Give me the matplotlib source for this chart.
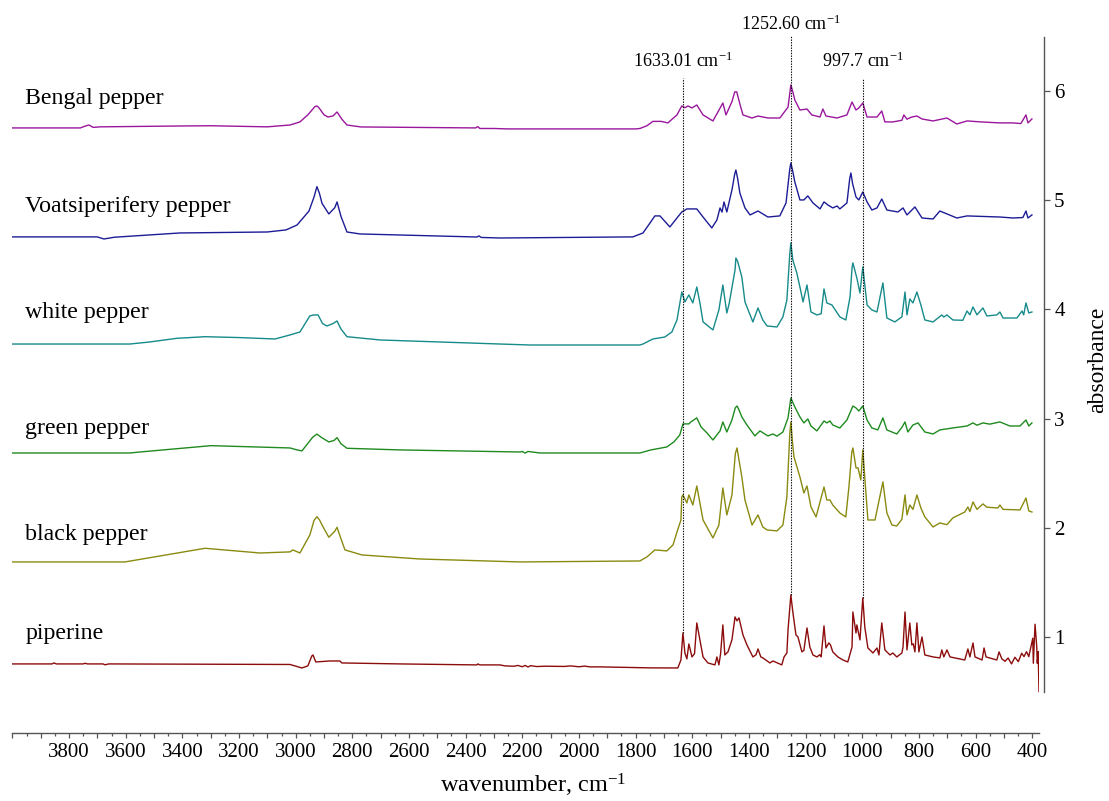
import matplotlib
matplotlib.use('Agg')
import matplotlib.pyplot as plt
from matplotlib.ticker import MultipleLocator, FuncFormatter, NullLocator

plt.rcParams['font.family'] = ['Liberation Serif', 'DejaVu Serif']
plt.rcParams['mathtext.fontset'] = 'custom'
plt.rcParams['mathtext.rm'] = 'Liberation Serif'
plt.rcParams['mathtext.it'] = 'Liberation Serif:italic'
plt.rcParams['mathtext.bf'] = 'Liberation Serif:bold'

# ---------------- data: (wavenumber cm-1, absorbance) ----------------
bengal = [(4000, 5.66), (3760, 5.66), (3745, 5.675), (3730, 5.687), (3715, 5.665), (3690, 5.67),
          (3400, 5.678), (3300, 5.68), (3100, 5.67), (3020, 5.687), (2985, 5.715), (2957, 5.78),
          (2932, 5.855), (2925, 5.861), (2918, 5.845), (2900, 5.78), (2886, 5.76), (2868, 5.77),
          (2854, 5.806), (2837, 5.74), (2819, 5.687),
          (2770, 5.669), (2365, 5.66), (2357, 5.672), (2350, 5.655), (2300, 5.655), (2250, 5.651),
          (1800, 5.651), (1785, 5.655), (1760, 5.68), (1739, 5.72), (1710, 5.72), (1686, 5.706),
          (1654, 5.779), (1637, 5.861), (1626, 5.845), (1615, 5.861), (1601, 5.843), (1584, 5.870),
          (1562, 5.779), (1527, 5.724), (1492, 5.888), (1481, 5.779), (1460, 5.90), (1450, 5.99),
          (1443, 5.99), (1432, 5.88), (1421, 5.779),
          (1389, 5.751), (1368, 5.769), (1333, 5.751), (1291, 5.751), (1262, 5.85), (1252, 6.053),
          (1245, 5.99), (1238, 5.916),
          (1220, 5.824), (1195, 5.833), (1178, 5.779), (1149, 5.760), (1139, 5.833), (1128, 5.769),
          (1089, 5.751), (1054, 5.779), (1036, 5.897), (1022, 5.824), (1012, 5.843), (998, 5.888),
          (983, 5.760), (948, 5.760), (931, 5.815), (920, 5.715), (892, 5.715), (860, 5.73),
          (853, 5.779), (842, 5.74), (825, 5.760), (807, 5.769), (789, 5.742), (750, 5.724),
          (701, 5.751), (666, 5.696), (630, 5.724), (580, 5.715), (514, 5.706), (468, 5.706),
          (440, 5.70), (422, 5.779), (415, 5.706), (401, 5.742)]

voatsiperifery = [(4000, 4.663), (3700, 4.663), (3677, 4.644), (3640, 4.66), (3409, 4.699), (3100, 4.708),
                  (3034, 4.727), (2995, 4.772), (2953, 4.900), (2935, 5.03), (2925, 5.123), (2916, 5.06),
                  (2907, 4.97), (2883, 4.873), (2862, 4.93),
                  (2854, 4.983), (2840, 4.85), (2819, 4.708), (2773, 4.690), (2360, 4.662), (2353, 4.672),
                  (2345, 4.658), (2279, 4.653), (1810, 4.663), (1774, 4.699), (1749, 4.791), (1732, 4.855),
                  (1714, 4.855), (1679, 4.754), (1654, 4.836), (1637, 4.891), (1619, 4.919), (1584, 4.919),
                  (1562, 4.845), (1531, 4.745), (1513, 4.818), (1502, 4.928), (1495, 4.89), (1488, 4.983),
                  (1478, 4.891), (1460, 5.092), (1450, 5.24), (1446, 5.275), (1440, 5.20), (1432, 5.065),
                  (1414, 4.928), (1396, 4.864),
                  (1368, 4.900), (1333, 4.845), (1291, 4.855), (1269, 4.974), (1256, 5.28), (1252, 5.339),
                  (1245, 5.26), (1238, 5.166),
                  (1220, 5.001), (1206, 5.001), (1192, 5.038), (1174, 4.974), (1149, 4.919), (1135, 4.983),
                  (1121, 4.955), (1104, 4.928), (1089, 4.946), (1079, 4.919), (1054, 4.974), (1044, 5.20),
                  (1040, 5.248), (1034, 5.15),
                  (1022, 5.028), (1012, 5.001), (998, 5.074), (983, 4.983), (966, 4.909), (948, 4.928),
                  (931, 5.010), (913, 4.909), (874, 4.891), (856, 4.928), (842, 4.864), (814, 4.937),
                  (789, 4.836), (750, 4.827), (726, 4.900), (666, 4.836), (630, 4.855), (514, 4.845),
                  (468, 4.836), (433, 4.84), (422, 4.900), (415, 4.836), (401, 4.864)]

white = [(4000, 3.683), (3585, 3.683), (3514, 3.702), (3420, 3.735), (3320, 3.750), (3200, 3.742),
         (3073, 3.729), (3020, 3.766),
         (2985, 3.793), (2950, 3.94), (2936, 3.949), (2921, 3.949), (2905, 3.87), (2890, 3.848),
         (2868, 3.87), (2854, 3.894), (2840, 3.82),
         (2819, 3.750), (2702, 3.720), (2279, 3.683), (2173, 3.674), (1785, 3.674), (1774, 3.683),
         (1739, 3.729), (1697, 3.747), (1672, 3.793), (1654, 3.903), (1637, 4.159), (1626, 4.068),
         (1612, 4.132), (1598, 4.059), (1584, 4.205), (1573, 4.059), (1562, 3.885), (1527, 3.812),
         (1506, 3.995), (1492, 4.223), (1478, 3.967), (1470, 4.05), (1449, 4.361), (1446, 4.470),
         (1440, 4.44), (1425, 4.296), (1414, 4.068), (1386, 3.885), (1368, 4.013), (1351, 3.903),
         (1336, 3.848), (1301, 3.839), (1280, 3.931), (1266, 4.086), (1256, 4.50), (1252, 4.608),
         (1245, 4.45), (1231, 4.333), (1220, 4.205),
         (1209, 4.068), (1195, 4.223), (1181, 3.976), (1160, 3.949), (1145, 3.96), (1135, 4.187),
         (1125, 4.059), (1107, 4.040), (1079, 3.931), (1058, 3.903), (1043, 4.114), (1036, 4.38),
         (1033, 4.425), (1019, 4.287), (1008, 4.150), (998, 4.388), (983, 4.040), (966, 3.995), (948, 3.976),
         (927, 4.242), (913, 3.921), (885, 3.885), (860, 3.931), (849, 4.159), (842, 3.949),
         (832, 4.095), (821, 4.059), (807, 4.159), (793, 4.040), (779, 3.903), (750, 3.885),
         (719, 3.949), (712, 3.93), (701, 3.949), (680, 3.903), (645, 3.90), (630, 3.985),
         (620, 3.95), (609, 4.022), (595, 3.95), (574, 4.013), (560, 3.94), (525, 3.949),
         (514, 3.976), (503, 3.921), (454, 3.921), (436, 3.985), (430, 3.95), (422, 4.059),
         (412, 3.967), (401, 3.976)]

green = [(4000, 2.686), (3585, 2.686), (3550, 2.695), (3299, 2.753), (3020, 2.732), (2995, 2.714),
         (2978, 2.705), (2940, 2.83), (2925, 2.859), (2910, 2.83), (2883, 2.787), (2865, 2.80),
         (2854, 2.826), (2840, 2.77), (2819, 2.729), (2632, 2.714),
         (2208, 2.695), (2200, 2.70), (2190, 2.685), (2180, 2.70), (2138, 2.686), (1785, 2.686),
         (1746, 2.714), (1690, 2.741), (1665, 2.787), (1644, 2.851), (1633, 2.952), (1612, 2.952),
         (1605, 2.97), (1584, 3.007), (1569, 2.924), (1548, 2.869), (1527, 2.805), (1502, 2.888),
         (1492, 2.970), (1478, 2.878), (1460, 2.988), (1448, 3.10), (1442, 3.116), (1435, 3.08),
         (1425, 3.016), (1407, 2.942),
         (1379, 2.842), (1361, 2.888), (1333, 2.842), (1315, 2.860), (1301, 2.84), (1280, 2.878),
         (1262, 3.007), (1252, 3.189), (1238, 3.107), (1220, 3.016), (1206, 2.961), (1192, 2.997),
         (1181, 2.933), (1160, 2.888), (1135, 2.979), (1125, 2.961), (1114, 2.979), (1104, 2.942),
         (1079, 2.915), (1054, 2.988), (1033, 3.116), (1022, 3.098), (1012, 3.07), (998, 3.116),
         (983, 2.988), (966, 2.915), (945, 2.897), (927, 3.007), (913, 2.897), (878, 2.860),
         (860, 2.92), (849, 2.970), (839, 2.878), (821, 2.942), (803, 2.961), (779, 2.878),
         (750, 2.860), (726, 2.897), (680, 2.915), (630, 2.933), (609, 2.961), (595, 2.94),
         (574, 2.961), (550, 2.95), (514, 2.970), (479, 2.933), (443, 2.933), (422, 2.988),
         (412, 2.933), (401, 2.961)]

black = [(4000, 1.689), (3603, 1.689), (3320, 1.814), (3126, 1.771), (3020, 1.781), (3010, 1.799),
         (2985, 1.771), (2950, 1.936), (2935, 2.07), (2925, 2.103), (2915, 2.07), (2907, 2.027),
         (2883, 1.915), (2862, 1.97), (2854, 2.006), (2840, 1.90),
         (2826, 1.799), (2766, 1.753), (2561, 1.716), (2208, 1.689), (1785, 1.698), (1760, 1.735),
         (1732, 1.799), (1690, 1.790), (1668, 1.845), (1654, 1.963), (1640, 2.073), (1637, 2.284),
         (1633, 2.302), (1619, 2.229), (1612, 2.302), (1598, 2.210), (1584, 2.384), (1573, 2.229),
         (1562, 2.073), (1527, 1.909), (1506, 2.027), (1492, 2.366), (1478, 2.119), (1460, 2.30),
         (1448, 2.68), (1442, 2.732), (1435, 2.62), (1425, 2.467), (1414, 2.256), (1389, 2.027),
         (1368, 2.119), (1351, 2.009),
         (1336, 1.982), (1301, 1.973), (1280, 2.027), (1266, 2.284), (1256, 2.85), (1252, 2.970),
         (1246, 2.78), (1241, 2.650),
         (1220, 2.467), (1206, 2.320), (1195, 2.384), (1181, 2.192), (1163, 2.101), (1135, 2.375),
         (1125, 2.256), (1114, 2.256), (1104, 2.210), (1079, 2.137), (1058, 2.101), (1047, 2.375),
         (1037, 2.69), (1033, 2.732), (1022, 2.549), (1015, 2.55), (1005, 2.439), (998, 2.714), (987, 2.320),
         (980, 2.073), (955, 2.073), (927, 2.421), (913, 2.137), (895, 2.027), (878, 2.018),
         (860, 2.08), (849, 2.302), (842, 2.119), (832, 2.210), (821, 2.17), (807, 2.302),
         (793, 2.183), (779, 2.101), (750, 2.009), (726, 2.046), (701, 2.03), (680, 2.092),
         (638, 2.146), (627, 2.192), (620, 2.15), (609, 2.238), (595, 2.17), (574, 2.220),
         (560, 2.19), (521, 2.183), (514, 2.210), (503, 2.17), (443, 2.165), (422, 2.274),
         (412, 2.156), (401, 2.146)]

piperine = [(4000, 0.756), (3860, 0.756), (3853, 0.765), (3845, 0.756), (3750, 0.756), (3744, 0.762),
            (3735, 0.756), (3680, 0.756), (3673, 0.748), (3660, 0.756), (3020, 0.751), (2992, 0.729),
            (2978, 0.719), (2957, 0.738), (2943, 0.829), (2939, 0.838), (2929, 0.774), (2880, 0.783),
            (2844, 0.783), (2837, 0.765), (2632, 0.756), (2360, 0.747), (2357, 0.756), (2350, 0.747),
            (2279, 0.747), (2261, 0.738), (2230, 0.735), (2215, 0.742), (2200, 0.73), (2190, 0.742),
            (2180, 0.728), (2170, 0.74), (2150, 0.732), (2120, 0.735), (2050, 0.733), (2030, 0.738),
            (2000, 0.73), (1980, 0.736), (1961, 0.729), (1926, 0.729), (1750, 0.72), (1651, 0.719),
            (1640, 0.792), (1633, 1.039), (1626, 0.856), (1619, 0.802), (1612, 0.939), (1601, 0.820),
            (1592, 0.85), (1584, 1.131), (1573, 0.976), (1562, 0.820), (1545, 0.765), (1520, 0.747),
            (1513, 0.820), (1506, 0.747), (1500, 0.85), (1492, 1.113), (1485, 0.838), (1474, 0.866),
            (1460, 0.976), (1449, 1.186), (1442, 1.15), (1435, 1.177), (1421, 1.021), (1407, 0.930),
            (1386, 0.820), (1375, 0.84), (1368, 0.893), (1358, 0.820), (1350, 0.81), (1326, 0.765),
            (1315, 0.783), (1284, 0.747), (1276, 0.820), (1266, 0.856), (1262, 1.067), (1252, 1.387),
            (1245, 1.231), (1234, 1.021), (1227, 1.003), (1213, 0.866), (1206, 0.88), (1195, 1.085),
            (1185, 0.911), (1174, 0.838), (1160, 0.820), (1150, 0.84), (1145, 0.82), (1135, 1.104),
            (1128, 0.902), (1118, 0.948), (1112, 0.93), (1104, 0.866), (1086, 0.820), (1068, 0.792),
            (1051, 0.774), (1036, 0.911), (1033, 1.231), (1022, 1.039), (1019, 1.113), (1008, 0.976),
            (998, 1.360), (991, 1.095), (980, 0.902), (962, 0.856), (948, 0.902), (941, 0.838),
            (931, 1.131), (920, 0.884), (902, 0.838), (892, 0.856), (878, 0.820), (860, 0.856),
            (856, 0.911), (849, 1.231), (842, 0.884), (832, 1.131), (825, 0.930), (820, 0.94),
            (814, 0.866), (807, 1.131), (800, 0.866), (789, 1.003), (779, 0.838), (750, 0.820),
            (726, 0.811), (719, 0.884), (712, 0.82), (701, 0.884), (690, 0.820), (638, 0.792),
            (627, 0.893), (620, 0.820), (609, 0.948), (602, 0.820), (577, 0.792), (570, 0.902),
            (563, 0.82), (525, 0.792), (517, 0.866), (507, 0.802), (496, 0.78), (485, 0.81),
            (473, 0.756), (461, 0.817), (449, 0.777), (437, 0.854), (429, 0.823), (420, 0.868),
            (412, 0.823), (398, 0.991), (396, 0.762), (390, 1.119), (384, 0.914), (382, 0.762),
            (379, 0.868), (376, 0.502)]

series_names = ['Bengal pepper', 'Voatsiperifery pepper', 'white pepper',
                'green pepper', 'black pepper', 'piperine']
series_data = [bengal, voatsiperifery, white, green, black, piperine]
series_colors = ['#9a169c', '#1c1c96', '#178a8a', '#1f8a1f', '#8a8a10', '#8c0c0c']
label_levels = [5.925, 4.940, 3.973, 2.912, 1.936, 1.037]

marker_wn = [1633.01, 1252.60, 997.7]
marker_text = ['1633.01 cm$^{-1}$', '1252.60 cm$^{-1}$', '997.7 cm$^{-1}$']
marker_top = [6.117, 6.51, 6.117]
marker_bottom = [1.039, 1.387, 1.36]
marker_text_y = [6.266, 6.611, 6.266]

y_ticks = [1, 2, 3, 4, 5, 6]

# ---------------- figure ----------------
W, H = 1109, 801
fig = plt.figure(figsize=(W / 100, H / 100), dpi=100)
ax = fig.add_axes([12.4 / W, 68 / H, 1026.6 / W, 696 / H])

for name, pts, col, lev in zip(series_names, series_data, series_colors, label_levels):
    xs = [p[0] for p in pts]
    ys = [p[1] for p in pts]
    ax.plot(xs, ys, color=col, lw=1.0, solid_joinstyle='round')
    ax.text(3955, lev, name, fontsize=17.2, ha='left', va='center', color='black')

for xw, txt, top, bot, ty in zip(marker_wn, marker_text, marker_top, marker_bottom, marker_text_y):
    ax.plot([xw, xw], [bot, top], color='black', lw=0.8, linestyle=(0, (1.2, 1.2)), clip_on=False)
    ax.text(xw, ty, txt, fontsize=13, ha='center', va='center', clip_on=False)

ax.set_xlim(4000, 376)
ax.set_ylim(0.124, 6.492)

spine_col = '#555555'
for s in ['top', 'left']:
    ax.spines[s].set_visible(False)
ax.spines['bottom'].set_color(spine_col)
ax.spines['bottom'].set_linewidth(1.0)
ax.spines['right'].set_color(spine_col)
ax.spines['right'].set_linewidth(1.0)
ax.spines['right'].set_position(('outward', 3.6))
ax.spines['right'].set_bounds(0.5, 6.49)

ax.xaxis.set_major_locator(MultipleLocator(100))
ax.xaxis.set_minor_locator(MultipleLocator(50))
ax.xaxis.set_major_formatter(FuncFormatter(
    lambda v, p: f'{int(round(v))}' if (int(round(v)) % 200 == 0 and 400 <= v <= 3800) else ''))
ax.tick_params(axis='x', which='major', direction='out', length=3.8, width=0.9,
               color=spine_col, labelsize=15, pad=3.5)
ax.tick_params(axis='x', which='minor', direction='out', length=1.8, width=0.9, color=spine_col)

ax.yaxis.tick_right()
ax.set_yticks(y_ticks)
ax.yaxis.set_minor_locator(NullLocator())
ax.tick_params(axis='y', which='major', direction='out', length=4.3, width=0.9,
               color=spine_col, labelsize=15, pad=3, left=False, right=True)

fig.text(1098 / W, 1 - 360 / H, 'absorbance', rotation=90, ha='center', va='center', fontsize=17)
fig.text(533 / W, 1 - 785 / H, 'wavenumber, cm$^{-1}$', ha='center', va='center', fontsize=17.5)

fig.savefig('out.png', dpi=100)
